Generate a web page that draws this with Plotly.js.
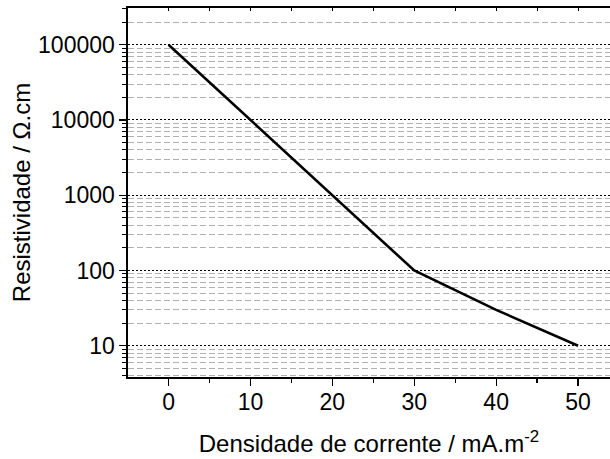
<!DOCTYPE html>
<html>
<head>
<meta charset="utf-8">
<script src="https://cdn.plot.ly/plotly-3.0.1.min.js"></script>
<style>html,body{margin:0;padding:0;background:#fff;}#chart{width:610px;height:459px;}</style>
</head>
<body>
<div id="chart"></div>
<script>
// Data
const currentDensity = [0, 10, 20, 30, 40, 50];
const resistivity = [100000, 10000, 1000, 100, 30, 10];
const yTickVals = [10, 100, 1000, 10000, 100000];
const yTickText = ['10', '100', '1000', '10000', '100000'];
const xTickVals = [0, 10, 20, 30, 40, 50];

// minor tick positions on log axis (2..9 per decade)
const yMinor = [];
for (let n = 0; n <= 5; n++) {
  for (let k = 2; k <= 9; k++) yMinor.push(k * Math.pow(10, n));
}

const font = 'Arial, Liberation Sans, Helvetica, sans-serif';
const xRange = [-4.95, 53.9];

const traces = [
  {
    x: currentDensity, y: resistivity, type: 'scatter', mode: 'lines',
    line: {color: '#000', width: 2.6}, hoverinfo: 'skip', showlegend: false
  },
  {
    x: currentDensity, y: resistivity, type: 'scatter', mode: 'lines',
    xaxis: 'x2', line: {color: 'rgba(0,0,0,0)', width: 0}, hoverinfo: 'skip', showlegend: false
  }
];

const layout = {
  width: 610, height: 459,
  margin: {l: 128, r: 0, t: 8, b: 82},
  paper_bgcolor: '#fff', plot_bgcolor: '#fff',
  font: {family: font, color: '#000', size: 23},
  showlegend: false,
  xaxis: {
    range: xRange, tickvals: xTickVals, ticktext: xTickVals.map(String),
    showline: true, linecolor: '#000', linewidth: 1.6, mirror: true,
    ticks: 'outside', ticklen: 7, tickwidth: 1.3, tickcolor: '#000',
    ticklabelstandoff: -3,
    showgrid: false, zeroline: false,
    tickfont: {family: font, size: 23, color: '#000'},
    minor: {dtick: 5, tick0: 0, ticks: 'outside', ticklen: 4, tickwidth: 1.3, tickcolor: '#000', showgrid: false},
    title: {text: 'Densidade de corrente / mA.m<sup>-2</sup>', font: {family: font, size: 24, color: '#000'}, standoff: 21}
  },
  xaxis2: {
    overlaying: 'x', side: 'top', anchor: 'y', range: xRange, dtick: 5, tick0: 0,
    ticks: 'inside', ticklen: 3, tickwidth: 1, tickcolor: '#000',
    showticklabels: false, showgrid: false, zeroline: false, showline: false
  },
  yaxis: {
    type: 'log', range: [0.585, 5.488],
    tickvals: yTickVals, ticktext: yTickText,
    showline: true, linecolor: '#000', linewidth: 1.6, mirror: false,
    ticks: 'outside', ticklen: 7, tickwidth: 1.3, tickcolor: '#000',
    showgrid: true, gridcolor: '#000', gridwidth: 1, griddash: '2px,2px',
    zeroline: false,
    tickfont: {family: font, size: 23, color: '#000'},
    minor: {tickvals: yMinor, ticks: 'outside', ticklen: 4, tickwidth: 1, tickcolor: '#000',
            showgrid: true, gridcolor: '#b0b0b0', gridwidth: 1, griddash: '6px,3px'},
    title: {text: 'Resistividade / Ω.cm', font: {family: font, size: 24, color: '#000'}, standoff: 0}
  }
};

Plotly.newPlot('chart', traces, layout, {staticPlot: true, displayModeBar: false});
</script>
</body>
</html>
